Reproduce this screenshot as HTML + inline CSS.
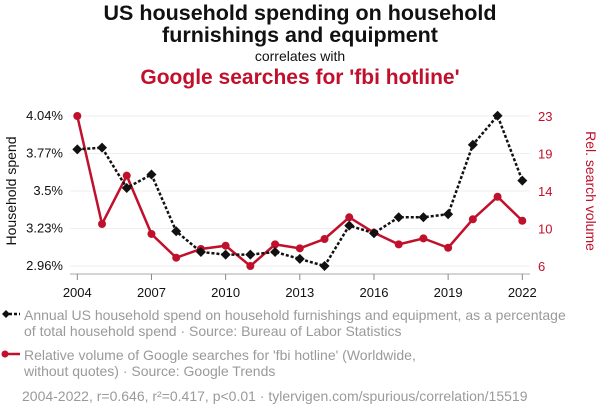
<!DOCTYPE html>
<html><head><meta charset="utf-8"><style>
body{margin:0;background:#fff;font-family:"Liberation Sans",sans-serif;}
.wrap{position:relative;width:600px;height:414px;overflow:hidden;}
.t{position:absolute;left:0;width:600px;text-align:center;}
.leg{position:absolute;left:24px;color:#9a9a9a;font-size:14px;line-height:16px;}
</style></head><body>
<div class="wrap">
<div class="t" style="top:2px;font-size:21.5px;font-weight:bold;line-height:22px;color:#111">US household spending on household<br>furnishings and equipment</div>
<div class="t" style="top:48px;font-size:14px;color:#111">correlates with</div>
<div class="t" style="top:66px;font-size:21px;font-weight:bold;color:#c0102c">Google searches for 'fbi hotline'</div>
<svg id="svg" width="600" height="414" style="position:absolute;left:0;top:0"></svg>
<div class="leg" style="top:307px">Annual US household spend on household furnishings and equipment, as a percentage<br>of total household spend · Source: Bureau of Labor Statistics</div>
<div class="leg" style="top:347px">Relative volume of Google searches for 'fbi hotline' (Worldwide,<br>without quotes) · Source: Google Trends</div>
<div class="leg" style="top:388px;left:22px">2004-2022, r=0.646, r²=0.417, p&lt;0.01 · tylervigen.com/spurious/correlation/15519</div>
</div>
<script>
const years=[2004,2005,2006,2007,2008,2009,2010,2011,2012,2013,2014,2015,2016,2017,2018,2019,2020,2021,2022];
const spend=[3.800,3.812,3.522,3.619,3.21,3.061,3.042,3.042,3.061,3.011,2.96,3.251,3.196,3.311,3.311,3.333,3.833,4.042,3.575];
const searches=[23,10.76,16.24,9.63,6.94,7.93,8.3,6,8.45,8.0,9.06,11.52,9.78,8.45,9.13,8.07,11.3,13.85,11.13];
const leftTicks=["4.04%","3.77%","3.5%","3.23%","2.96%"];
const rightTicks=["23","19","14","10","6"];
const xTicks=[2004,2007,2010,2013,2016,2019,2022];
const NS="http://www.w3.org/2000/svg",svg=document.getElementById('svg');
const X0=77.3,X1=522.3,YT=116,YB=266;
const x=y=>X0+(y-2004)*(X1-X0)/18;
const yl=v=>YT+(4.04-v)*(YB-YT)/1.08;
const yr=v=>YT+(23-v)*(YB-YT)/17;
function el(t,a,p){const e=document.createElementNS(NS,t);for(const k in a)e.setAttribute(k,a[k]);(p||svg).appendChild(e);return e;}
leftTicks.forEach((l,i)=>{const yy=YT+i*(YB-YT)/4;
const g=el('line',{x1:70,x2:530,y1:yy,y2:yy,stroke:'#eee','stroke-width':1});

const t=el('text',{x:63,y:yy+4,'text-anchor':'end','font-size':13,fill:'#111'});t.textContent=l;

const r=el('text',{x:538,y:yy+5,'font-size':13,fill:'#c0102c'});r.textContent=rightTicks[i];
});
const ax=el('line',{x1:70,x2:530,y1:274,y2:274,stroke:'#aaa'});

xTicks.forEach(v=>{const tk=el('line',{x1:x(v),x2:x(v),y1:274,y2:280,stroke:'#888'});

const t=el('text',{x:x(v),y:297,'text-anchor':'middle','font-size':13,fill:'#111'});t.textContent=v;
});
const lt=el('text',{transform:'translate(16,191) rotate(-90)','text-anchor':'middle','font-size':14,fill:'#111'});lt.textContent='Household spend';

const rt=el('text',{transform:'translate(586,191) rotate(90)','text-anchor':'middle','font-size':14,fill:'#c0102c'});rt.textContent='Rel. search volume';

const rl=el('polyline',{points:years.map((y,i)=>x(y)+','+yr(searches[i])).join(' '),fill:'none',stroke:'#c0102c','stroke-width':2.5});

years.forEach((y,i)=>{const c=el('circle',{cx:x(y),cy:yr(searches[i]),r:4,fill:'#c0102c'});
});
const bl=el('polyline',{points:years.map((y,i)=>x(y)+','+yl(spend[i])).join(' '),fill:'none',stroke:'#111','stroke-width':2.5,'stroke-dasharray':'3,2'});

years.forEach((y,i)=>{const cx=x(y),cy=yl(spend[i]);const d=el('polygon',{points:`${cx},${cy-5} ${cx+5},${cy} ${cx},${cy+5} ${cx-5},${cy}`,fill:'#111'});
});
const l1=el('line',{x1:4,x2:20,y1:314,y2:314,stroke:'#111','stroke-width':2.5,'stroke-dasharray':'3,2'});

el('polygon',{points:'2,314 6,310 10,314 6,318',fill:'#111'});
const l2=el('line',{x1:4,x2:20,y1:354,y2:354,stroke:'#c0102c','stroke-width':2.5});

el('circle',{cx:5,cy:354,r:3.5,fill:'#c0102c'});
</script>
</body></html>
